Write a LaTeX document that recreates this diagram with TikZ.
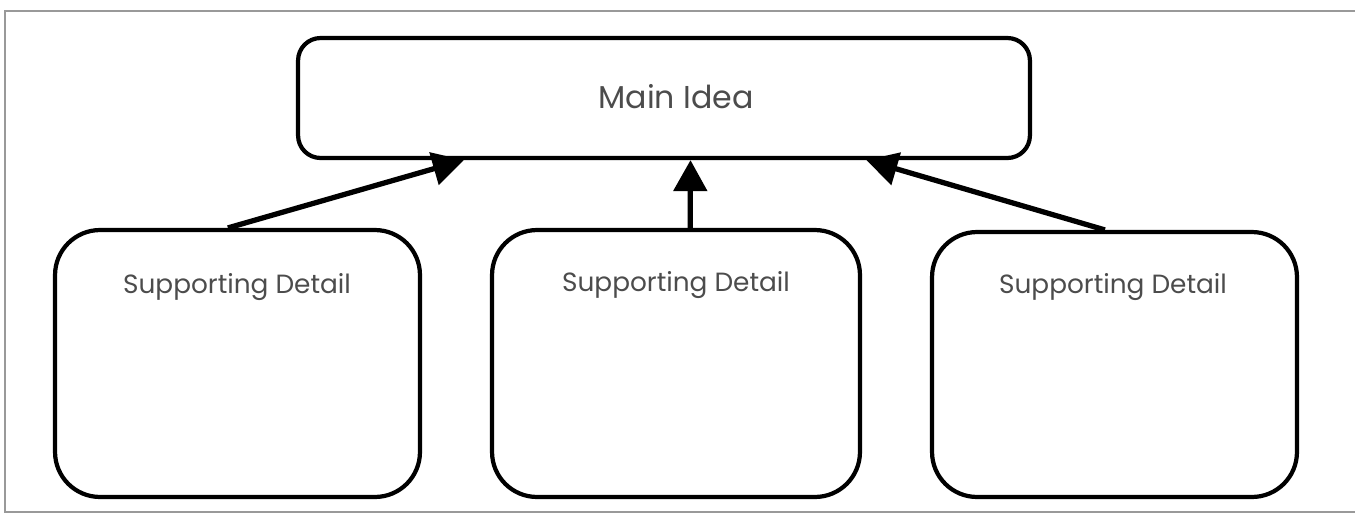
\documentclass[tikz,border=0pt]{standalone}
\usepackage{fontspec}
\setmainfont{Poppins}
\usetikzlibrary{arrows.meta,calc,positioning}

\begin{document}
\begin{tikzpicture}[x=0.02cm,y=-0.02cm,
        box/.style={draw=black,line width=2.4pt,rounded corners=0.9cm,inner sep=0pt},
        txt/.style={text=black!70,font=\fontsize{15}{18}\selectfont},
        up/.style={line width=3pt,-{Triangle[length=0.62cm,width=0.66cm]}}]
                \useasboundingbox (0,0) rectangle (1355,518);
                \draw[gray!80,line width=0.9pt] (1355,11) -| (5,512) -- (1355,512);

                \node[box,rounded corners=0.45cm,minimum width=14.64cm,minimum height=2.4cm](main)at(664,98){};
                \node[box,minimum width=7.3cm,minimum height=5.34cm](d1)at(237.5,363.5){};
                \node[box,minimum width=7.36cm,minimum height=5.34cm](d2)at(676,363.5){};
                \node[box,minimum width=7.3cm,minimum height=5.3cm](d3)at(1114.5,364.5){};

                \node[txt,font=\fontsize{18}{21}\selectfont](maintext)at(676,97){Main Idea};
                \node[txt](d1text)at(237,287){Supporting Detail};
                \node[txt](d2text)at(676,285){Supporting Detail};
                \node[txt](d3text)at(1113,287){Supporting Detail};

                % details point up to the main idea
                \draw[up] ($(d1.north west)!0.474!(d1.north east)$) -- ($(main.south west)!0.228!(main.south east)$);
                \draw[up] ($(d2.north west)!0.538!(d2.north east)$) -- ($(main.south west)!0.536!(main.south east)$);
                \draw[up] ($(d3.north west)!0.474!(d3.north east)$) -- ($(main.south west)!0.775!(main.south east)$);
            \end{tikzpicture}
\end{document}
